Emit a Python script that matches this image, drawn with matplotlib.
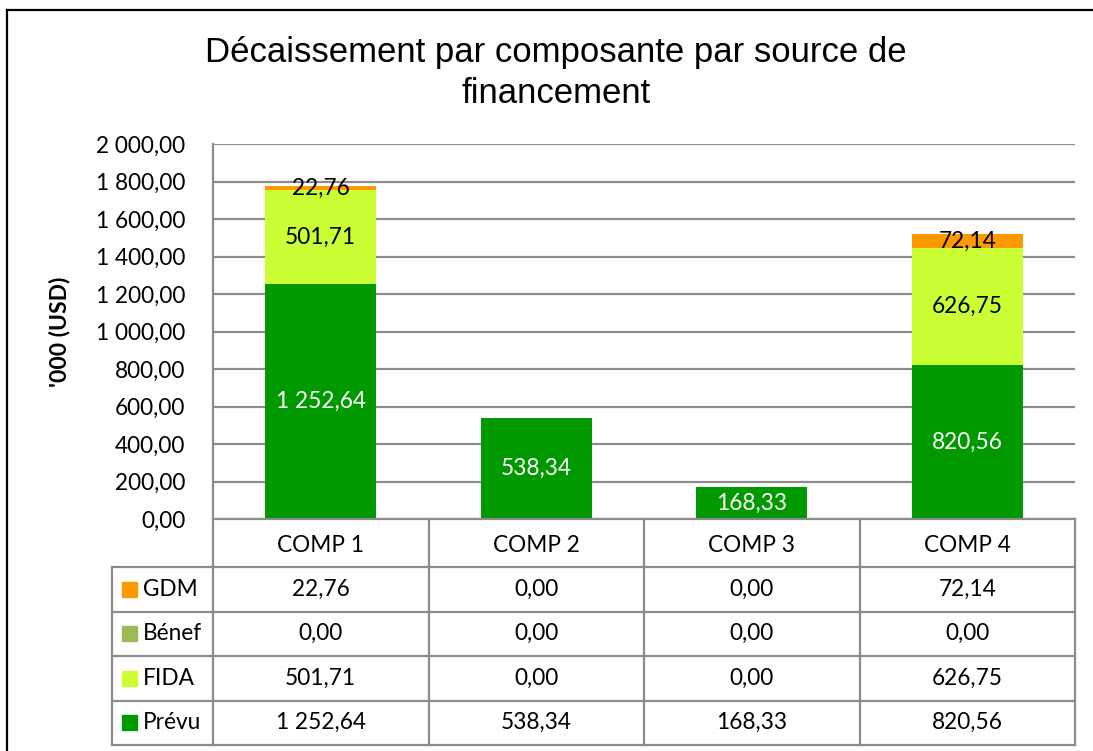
import matplotlib
matplotlib.use("Agg")
import matplotlib.pyplot as plt
from matplotlib.lines import Line2D
from matplotlib.patches import Rectangle
import numpy as np

# --- data ---
categories = ["COMP 1", "COMP 2", "COMP 3", "COMP 4"]
series_names = ["Prévu", "FIDA", "Bénef", "GDM"]          # bottom -> top
prevu = [1252.64, 538.34, 168.33, 820.56]
fida = [501.71, 0.00, 0.00, 626.75]
benef = [0.00, 0.00, 0.00, 0.00]
gdm = [22.76, 0.00, 0.00, 72.14]
yticks = [0, 200, 400, 600, 800, 1000, 1200, 1400, 1600, 1800, 2000]

title = "Décaissement par composante par source de\nfinancement"
ylabel = "'000 (USD)"

# --- style ---
COLORS = {"Prévu": "#009900", "FIDA": "#CCFF33", "Bénef": "#9BBB59", "GDM": "#FF9900"}
LABEL_COLORS = {"Prévu": "white", "FIDA": "black", "Bénef": "black", "GDM": "black"}
GRID_C = "#8C8C8C"
NUM_FONT = "Lato"
NUM_FS = 16.3
W, H = 1093, 751
BAR_W = 0.515


def fmt(v):
    s = f"{v:,.2f}"
    return s.replace(",", " ").replace(".", ",")


def px_box(x0, y0, x1, y1):
    # pixel box (top-left origin) -> figure fraction [left, bottom, width, height]
    return [x0 / W, 1 - y1 / H, (x1 - x0) / W, (y1 - y0) / H]


fig = plt.figure(figsize=(W / 100, H / 100), dpi=100)
fig.patch.set_facecolor("white")

# outer chart frame (top and left edges visible)
fig.add_artist(Line2D([7 / W, 7 / W], [0, 1 - 10 / H], color="black", lw=1.6,
                      transform=fig.transFigure))
fig.add_artist(Line2D([7 / W, 1], [1 - 10 / H, 1 - 10 / H], color="black", lw=1.6,
                      transform=fig.transFigure))

# --- main bar axes ---
ax = fig.add_axes(px_box(213, 144, 1075, 519))
x = np.arange(len(categories))
data = {"Prévu": prevu, "FIDA": fida, "Bénef": benef, "GDM": gdm}
bottom = np.zeros(len(categories))
for name in series_names:
    vals = np.array(data[name])
    ax.bar(x, vals, BAR_W, bottom=bottom, color=COLORS[name], zorder=2)
    for xi, b, v in zip(x, bottom, vals):
        if v > 0:
            ax.text(xi, b + v / 2, fmt(v), ha="center", va="center",
                    color=LABEL_COLORS[name], fontsize=NUM_FS, family=NUM_FONT, zorder=3)
    bottom += vals

ax.set_xlim(-0.5, len(categories) - 0.5)
ax.set_ylim(0, 2000)
ax.set_yticks(yticks)
ax.set_yticklabels([fmt(v) for v in yticks], family=NUM_FONT, fontsize=NUM_FS)
ax.set_xticks([])
ax.tick_params(axis="y", length=0, pad=20)
ax.grid(axis="y", color=GRID_C, lw=1.6, zorder=0)
for s in ["top", "right", "bottom"]:
    ax.spines[s].set_visible(False)
ax.spines["left"].set_color(GRID_C)
ax.spines["left"].set_linewidth(1.6)
ax.set_ylabel(ylabel, family=NUM_FONT, fontsize=16.5, fontweight="bold", labelpad=18)

fig.text(556 / W, 1 - 73 / H, title, ha="center", va="center",
         family="Liberation Sans", fontsize=25, linespacing=1.3)

# --- data table below ---
leg_w = 101 / 215.5
hdr_h = 48 / 44.5
tab = fig.add_axes(px_box(112, 519, 1075, 745))
tab.set_xlim(-0.5 - leg_w, len(categories) - 0.5)
n_rows = len(series_names)
tab.set_ylim(hdr_h + n_rows, 0)
tab.axis("off")

lw = 1.6
xl = -0.5 - leg_w
xr = len(categories) - 0.5
# horizontal lines
tab.plot([-0.5, xr], [0, 0], color=GRID_C, lw=lw, clip_on=False)
for r in range(n_rows + 1):
    tab.plot([xl, xr], [hdr_h + r, hdr_h + r], color=GRID_C, lw=lw, clip_on=False)
# vertical lines
tab.plot([xl, xl], [hdr_h, hdr_h + n_rows], color=GRID_C, lw=lw, clip_on=False)
for c in range(len(categories) + 1):
    tab.plot([c - 0.5, c - 0.5], [0, hdr_h + n_rows], color=GRID_C, lw=lw, clip_on=False)

for c, cat in enumerate(categories):
    tab.text(c, hdr_h / 2 + 0.06, cat, ha="center", va="center",
             family=NUM_FONT, fontsize=NUM_FS)

table_rows = ["GDM", "Bénef", "FIDA", "Prévu"]   # top -> bottom as in the table
for r, name in enumerate(table_rows):
    yc = hdr_h + r + 0.5
    tab.add_patch(Rectangle((xl + 0.045, yc - 0.17), 0.07, 0.34,
                            color=COLORS[name], clip_on=False))
    tab.text(xl + 0.145, yc, name, ha="left", va="center",
             family=NUM_FONT, fontsize=NUM_FS)
    for c, v in enumerate(data[name]):
        tab.text(c, yc, fmt(v), ha="center", va="center",
                 family=NUM_FONT, fontsize=NUM_FS)

fig.savefig("out.png", dpi=100, facecolor="white")
